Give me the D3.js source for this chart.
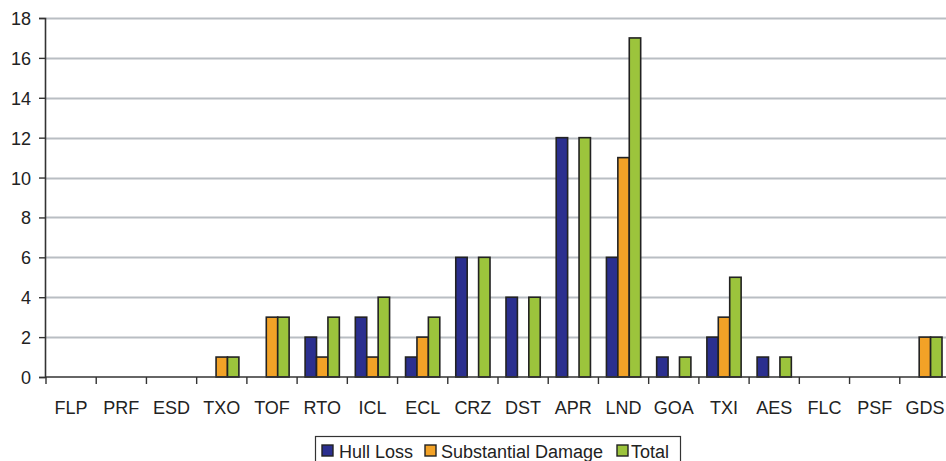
<!DOCTYPE html>
<html>
<head>
<meta charset="utf-8">
<script src="https://cdn.jsdelivr.net/npm/d3@7"></script>
<style>
  html, body { margin: 0; padding: 0; background: #fff; }
  svg { display: block; font-family: "Liberation Sans", Arial, sans-serif; }
</style>
</head>
<body>
<svg id="chart" width="946" height="461"></svg>
<script>
// Occurrence categories and counts per damage class
const categories = ["FLP","PRF","ESD","TXO","TOF","RTO","ICL","ECL","CRZ","DST","APR","LND","GOA","TXI","AES","FLC","PSF","GDS"];
const seriesNames = ["Hull Loss","Substantial Damage","Total"];
const hullLoss          = [0,0,0,0,0,2,3,1,6,4,12,6,1,2,1,0,0,0];
const substantialDamage = [0,0,0,1,3,1,1,2,0,0,0,11,0,3,0,0,0,2];
const total             = [0,0,0,1,3,3,4,3,6,4,12,17,1,5,1,0,0,2];
const yTicks = [0,2,4,6,8,10,12,14,16,18];
const colors = ["#2b2f8f","#f2a227","#9cc43c"];

const series = [hullLoss, substantialDamage, total];
const svg = d3.select("#chart");
const margin = {left: 45, right: 0, top: 18, bottom: 84};
const W = 946, H = 461;
const FONT = "'Liberation Sans', Arial, sans-serif";

// the category axis runs slightly past the right edge of the canvas
const x = d3.scaleBand().domain(categories).range([margin.left + 1, 950]).paddingInner(0).paddingOuter(0);
const x1 = d3.scaleBand().domain(d3.range(series.length)).range([0, x.bandwidth()]).paddingInner(0).paddingOuter(0.7);
const y = d3.scaleLinear().domain([0, 18]).range([H - margin.bottom, margin.top]);

// horizontal gridlines
svg.append("g").selectAll("line").data(yTicks.filter(t => t > 0)).join("line")
  .attr("x1", margin.left).attr("x2", W)
  .attr("y1", d => Math.round(y(d)) + 0.5).attr("y2", d => Math.round(y(d)) + 0.5)
  .attr("stroke", "#b9bec3").attr("stroke-width", 2);

// bars
const groups = svg.append("g").selectAll("g").data(categories).join("g")
  .attr("transform", d => `translate(${x(d)},0)`);
groups.selectAll("rect").data((d, i) => series.map((s, k) => ({k, v: s[i]})).filter(e => e.v > 0)).join("rect")
  .attr("x", e => x1(e.k))
  .attr("width", x1.bandwidth())
  .attr("y", e => y(e.v))
  .attr("height", e => y(0) - y(e.v))
  .attr("fill", e => colors[e.k])
  .attr("stroke", "#222")
  .attr("stroke-width", 1.6);

// y axis
const yAxis = d3.axisLeft(y).tickValues(yTicks).tickSize(6).tickPadding(8).tickFormat(d3.format("d"));
const gy = svg.append("g").attr("transform", `translate(${margin.left},0)`).call(yAxis);
gy.select(".domain").attr("stroke", "#333").attr("stroke-width", 1.6);
gy.selectAll(".tick line").attr("stroke", "#333").attr("stroke-width", 1.4);
gy.selectAll("text").attr("font-size", 18).attr("fill", "#222").attr("font-family", FONT)
  .attr("dy", "0.36em");

// x axis
const gx = svg.append("g").attr("transform", `translate(0,${y(0)})`);
gx.append("line").attr("x1", margin.left).attr("x2", W).attr("y1", 0).attr("y2", 0)
  .attr("stroke", "#333").attr("stroke-width", 1.6);
gx.selectAll("line.tk").data(categories).join("line").attr("class", "tk")
  .attr("x1", d => x(d)).attr("x2", d => x(d)).attr("y1", 0).attr("y2", 7)
  .attr("stroke", "#333").attr("stroke-width", 1.4);
gx.selectAll("text").data(categories).join("text")
  .attr("x", d => x(d) + x.bandwidth() / 2)
  .attr("y", 37)
  .attr("text-anchor", "middle")
  .attr("font-size", 18).attr("fill", "#222").attr("font-family", FONT)
  .text(d => d);

// legend
const lg = svg.append("g");
lg.append("rect").attr("x", 315.5).attr("y", 436.5).attr("width", 365).attr("height", 30)
  .attr("fill", "#fff").attr("stroke", "#333").attr("stroke-width", 1.2);
const swatchX = [322, 425, 617];
const labelX = [339, 441, 631];
seriesNames.forEach((n, k) => {
  lg.append("rect").attr("x", swatchX[k]).attr("y", 445).attr("width", 11).attr("height", 11)
    .attr("fill", colors[k]).attr("stroke", "#222").attr("stroke-width", 1.4);
  lg.append("text").attr("x", labelX[k]).attr("y", 458)
    .attr("font-size", 18).attr("fill", "#222").attr("font-family", FONT).text(n);
});
</script>
</body>
</html>
